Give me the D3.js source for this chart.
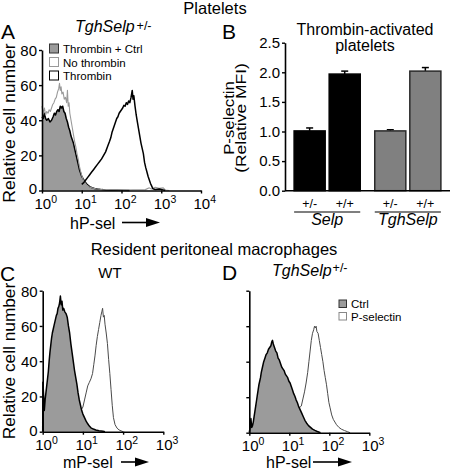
<!DOCTYPE html>
<html><head><meta charset="utf-8">
<script src="https://cdn.jsdelivr.net/npm/d3@7"></script>
<style>
body{margin:0;background:#fff;}
svg{display:block;font-family:"Liberation Sans",Arial,Helvetica,sans-serif;}
</style></head><body>
<svg id="fig" width="451" height="470"></svg>
<script>
// ---------- DATA ----------
const countTicks = [0, 20, 40, 60, 80];
const decadeTicksA = [0, 1, 2, 3, 4];
const decadeTicksCD = [0, 1, 2, 3];

// Panel A (TghSelp +/- platelets), x = log10 fluorescence
const aCtrlLog   = [0.00,0.03,0.06,0.09,0.12,0.16,0.20,0.24,0.28,0.31,0.34,0.37,0.40,0.43,0.46,0.49,0.52,0.55,0.58,0.61,0.64,0.67,0.70,0.73,0.76,0.79,0.82,0.85,0.88,0.91,0.94,0.97,1.00,1.04,1.08,1.12,1.16,1.20,1.26,1.32,1.40,1.50,1.60,1.75,1.90,2.20];
const aCtrlCount = [42,41,44,41,40,41,39,40,42,44,43,45,46,45,48,47,48,45,44,41,39,36,34,31,29,27,24,21,18,15,12,10,8,6.5,5,3.8,3,2.2,1.6,1.1,0.8,0.5,0.3,0.2,0.1,0];
const aNoThrLog   = [0.00,0.03,0.06,0.09,0.12,0.15,0.18,0.21,0.24,0.27,0.30,0.33,0.36,0.39,0.42,0.44,0.46,0.48,0.50,0.53,0.56,0.59,0.62,0.64,0.66,0.68,0.70,0.73,0.76,0.79,0.82,0.85,0.88,0.91,0.94,0.97,1.00,1.04,1.08,1.12,1.18,1.25,1.35,1.50,1.70,2.00,2.30,2.60,2.70,2.75,2.85,2.95,3.05,3.10,3.20];
const aNoThrCount = [48,44,47,43,45,44,46,45,47,49,50,52,53,56,58,61,57,59,55,56,52,53,50,57,48,50,44,40,36,32,28,25,21,18,14,11,8.5,6,4.5,3.2,2.2,1.5,1,0.6,0.4,0.3,0.4,0.5,1.5,0.8,1.8,1.2,1.5,0.3,0];
const aThrLog   = [1.00,1.05,1.10,1.15,1.20,1.25,1.30,1.35,1.40,1.45,1.50,1.55,1.60,1.65,1.70,1.73,1.76,1.79,1.82,1.85,1.88,1.91,1.94,1.97,2.00,2.03,2.06,2.09,2.12,2.15,2.18,2.21,2.24,2.27,2.29,2.31,2.34,2.37,2.40,2.43,2.46,2.49,2.52,2.55,2.58,2.61,2.64,2.67,2.70,2.73,2.76,2.79,2.85,2.95,3.02,3.10];
const aThrCount = [3.5,4.5,6,7.5,9,10.5,12,13.5,15,16.5,18,20,22,25,28,30,33,35,37,39,41,42,44,45,46,47,48.5,48,50,49,51,50,53,57,52,54,48,43,39,35,31,27,24,21,16,13,10.5,8,6,4,2.5,1,0.6,0.8,0.5,0];

// Panel B (thrombin-activated platelets, relative MFI)
const mfiTicks = [0, 0.5, 1.0, 1.5, 2.0, 2.5];
const barGroups = ["Selp", "TghSelp"];
const barGenotypes = ["+/-", "+/+"];
const barValues = [1.01, 1.97, 1.01, 2.02];
const barErrors = [0.05, 0.05, 0.02, 0.06];

// Panel C (WT macrophages)
const cCtrlLog   = [0.00,0.005,0.02,0.04,0.06,0.08,0.10,0.12,0.14,0.16,0.18,0.20,0.22,0.24,0.26,0.28,0.30,0.32,0.34,0.36,0.38,0.40,0.42,0.44,0.46,0.48,0.50,0.52,0.55,0.58,0.61,0.64,0.67,0.70,0.73,0.76,0.79,0.82,0.85,0.88,0.91,0.94,0.97,1.00,1.04,1.08,1.12,1.16,1.20,1.26,1.32,1.40,1.50,1.55];
const cCtrlCount = [0,28,22,12,18,22,26,30,34,40,45,49,53,56,58,60,62,64,66,67,70,71,73,77,72,74,69,70,68,67,65,60,56,50,45,40,35,31,27,22,18,15,12,10,8,6,4.5,3.2,2.2,1.5,1,0.6,0.2,0];
const cPselLog   = [0.90,0.95,1.00,1.04,1.08,1.12,1.16,1.20,1.24,1.27,1.30,1.33,1.36,1.39,1.42,1.45,1.47,1.49,1.51,1.53,1.55,1.58,1.61,1.64,1.67,1.70,1.73,1.76,1.80,1.85,1.90,1.95,2.00];
const cPselCount = [10,12,14,18,22,26,28,30,33,38,43,49,54,58,62,66,68,70,65,66,61,56,50,41,33,24,15,8,4,2,1,0.5,0];

// Panel D (TghSelp +/- macrophages)
const dCtrlLog   = [0.00,0.02,0.04,0.06,0.08,0.10,0.12,0.14,0.16,0.18,0.20,0.22,0.24,0.26,0.28,0.30,0.33,0.36,0.39,0.42,0.45,0.48,0.51,0.54,0.56,0.58,0.60,0.63,0.66,0.69,0.72,0.75,0.78,0.81,0.84,0.87,0.90,0.93,0.96,0.99,1.02,1.05,1.08,1.11,1.14,1.17,1.20,1.23,1.27,1.31,1.35,1.39,1.43,1.48,1.53,1.58,1.64,1.70,1.78];
const dCtrlCount = [0,3,8,3,4,6,9,12,15,18,21,24,27,29,31,34,37,40,42,44,45,47,48,49,51,52,50,48,46,45,42,41,39,37,36,35,33,32,31,29,28,26,24,22,20.5,18.5,17,15,13,11,9,7,5.5,4,3,2,1.3,0.7,0];
const dPselLog   = [1.20,1.25,1.30,1.34,1.38,1.42,1.46,1.49,1.52,1.55,1.58,1.61,1.63,1.65,1.67,1.69,1.72,1.75,1.78,1.81,1.84,1.87,1.90,1.93,1.96,1.99,2.02,2.06,2.10,2.14,2.18,2.24,2.30,2.38,2.45,2.52];
const dPselCount = [12,14,15,19,23,28,34,40,46,52,56,58,60,59,60,57,56,52,48,44,40,35,31,27,22,17,14,10,7.5,6,4.5,3,2,1.2,0.6,0];

// ---------- DRAWING ----------
const svg = d3.select("#fig");
const FONT = '"Liberation Sans",Arial,Helvetica,sans-serif';
const zip = (a, b) => a.map((v, i) => [v, b[i]]);

function txt(x, y, s, size, opts = {}) {
  const t = svg.append("text").attr("x", x).attr("y", y).attr("font-size", size)
    .attr("fill", "#000").text(s);
  if (opts.anchor) t.attr("text-anchor", opts.anchor);
  if (opts.italic) t.attr("font-style", "italic");
  return t;
}
// vertical (rotated) text, stretched along reading direction
function vtxt(x, y, s, size, sx) {
  return svg.append("text").attr("transform", `translate(${x},${y}) rotate(-90) scale(${sx},1)`)
    .attr("text-anchor", "middle").attr("font-size", size).attr("fill", "#000").text(s);
}

function arrow(x1, x2, y) {
  svg.append("line").attr("x1", x1).attr("x2", x2 - 12).attr("y1", y).attr("y2", y)
    .attr("stroke", "#000").attr("stroke-width", 1.6);
  svg.append("path").attr("d", `M${x2 - 14},${y - 4.5}L${x2},${y}L${x2 - 14},${y + 4.5}Z`).attr("fill", "#000");
}

function histAxes(x, y, xt, showYLabels) {
  const ya = d3.axisLeft(y).tickValues(countTicks).tickSize(3).tickSizeOuter(0).tickPadding(2);
  if (!showYLabels) ya.tickFormat("");
  const gy = svg.append("g").attr("transform", `translate(${x.range()[0]},0)`).call(ya);
  gy.attr("font-size", 15).attr("font-family", FONT);
  gy.selectAll("text").attr("dy", "0.36em").attr("fill", "#000")
    .attr("y", d => d === 0 ? -2 : 0);
  const xa = d3.axisBottom(x).tickValues(xt).tickSize(3).tickSizeOuter(0).tickPadding(4.5).tickFormat("");
  const gx = svg.append("g").attr("transform", `translate(0,${y.range()[0]})`).call(xa);
  gx.attr("font-size", 15).attr("font-family", FONT);
  gx.selectAll(".tick text").attr("text-anchor", "start").attr("x", -8).attr("fill", "#000")
    .each(function (d) {
      const t = d3.select(this);
      t.text(null);
      t.append("tspan").text("10");
      t.append("tspan").attr("dy", -6).attr("font-size", 10.5).text(d);
    });
  [gx, gy].forEach(g => {
    g.select(".domain").attr("stroke", "#000").attr("stroke-width", 1.6);
    g.selectAll(".tick line").attr("stroke", "#000").attr("stroke-width", 1.4);
  });
}

function filled(x, y, logs, counts) {
  const pts = zip(logs, counts);
  svg.append("path").datum(pts)
    .attr("d", d3.area().x(d => x(d[0])).y0(y(0)).y1(d => y(d[1])))
    .attr("fill", "#9b9b9b");
  svg.append("path").datum(pts)
    .attr("d", d3.line().x(d => x(d[0])).y(d => y(d[1])))
    .attr("fill", "none").attr("stroke", "#000").attr("stroke-width", 1.5).attr("stroke-linejoin", "round");
}
function lineH(x, y, logs, counts, color, w) {
  svg.append("path").datum(zip(logs, counts))
    .attr("d", d3.line().x(d => x(d[0])).y(d => y(d[1])))
    .attr("fill", "none").attr("stroke", color).attr("stroke-width", w).attr("stroke-linejoin", "round");
}
function legendBox(x, y, s, fill, stroke) {
  svg.append("rect").attr("x", x).attr("y", y).attr("width", s).attr("height", s)
    .attr("fill", fill).attr("stroke", stroke).attr("stroke-width", 1);
}

// Headings
txt(215, 14, "Platelets", 16.5, { anchor: "middle" });
txt(214, 255, "Resident peritoneal macrophages", 16.5, { anchor: "middle" });

// ----- Panel A -----
{
  const x = d3.scaleLinear().domain([0, 4]).range([42, 201]);
  const y = d3.scaleLinear().domain([0, 80]).range([190.5, 50]);
  filled(x, y, aCtrlLog, aCtrlCount);
  lineH(x, y, aNoThrLog, aNoThrCount, "#9a9a9a", 1.1);
  lineH(x, y, aThrLog, aThrCount, "#000", 1.5);
  histAxes(x, y, decadeTicksA, true);
  txt(1, 39, "A", 21);
  const t = txt(75, 32, "TghSelp", 16, { italic: true });
  t.append("tspan").attr("font-style", "normal").attr("font-size", 12.5).attr("dx", 2).attr("dy", -2).text("+/-");
  vtxt(15, 123, "Relative cell number", 16, 1.1);
  txt(70, 228.5, "hP-sel", 16);
  arrow(122, 160, 222.5);
  legendBox(49.5, 44, 9, "#9b9b9b", "#333");
  legendBox(49.5, 57.5, 9, "#fff", "#999");
  legendBox(49.5, 71, 9, "#fff", "#000");
  txt(63, 53, "Thrombin + Ctrl", 11.5);
  txt(63, 66.5, "No thrombin", 11.5);
  txt(63, 80, "Thrombin", 11.5);
}

// ----- Panel B -----
{
  const y = d3.scaleLinear().domain([0, 2.5]).range([190.7, 42.7]);
  const xg = d3.scaleBand().domain(barGroups).range([285, 450]).paddingInner(0.18).paddingOuter(0.113);
  const xi = d3.scaleBand().domain(barGenotypes).range([0, xg.bandwidth()]).paddingInner(0.114);
  const bars = [];
  barGroups.forEach((g, gi) => barGenotypes.forEach((k, ki) => {
    const idx = gi * 2 + ki;
    bars.push({ g, k, v: barValues[idx], e: barErrors[idx], gi });
  }));
  const bx = d => xg(d.g) + xi(d.k);
  // error bars
  svg.append("g").selectAll("g").data(bars).join("g").each(function (d) {
    const g = d3.select(this), cx = bx(d) + xi.bandwidth() / 2;
    g.append("line").attr("x1", cx).attr("x2", cx).attr("y1", y(d.v)).attr("y2", y(d.v + d.e))
      .attr("stroke", "#000").attr("stroke-width", 1.5);
    g.append("line").attr("x1", cx - 3.5).attr("x2", cx + 3.5).attr("y1", y(d.v + d.e)).attr("y2", y(d.v + d.e))
      .attr("stroke", "#000").attr("stroke-width", 1.5);
  });
  svg.append("g").selectAll("rect").data(bars).join("rect")
    .attr("x", bx).attr("width", xi.bandwidth())
    .attr("y", d => y(d.v)).attr("height", d => y(0) - y(d.v))
    .attr("fill", d => d.gi === 0 ? "#000" : "#808080")
    .attr("stroke", d => d.gi === 0 ? "#000" : "#2a2a2a").attr("stroke-width", 1.5);

  const ya = d3.axisLeft(y).tickValues(mfiTicks).tickSize(3).tickSizeOuter(0).tickPadding(2).tickFormat(d3.format(".1f"));
  const gy = svg.append("g").attr("transform", "translate(285,0)").call(ya);
  gy.attr("font-size", 15).attr("font-family", FONT);
  gy.selectAll("text").attr("fill", "#000");
  const gx = svg.append("g").attr("transform", `translate(0,${y(0)})`)
    .call(d3.axisBottom(xg).tickSize(0).tickSizeOuter(0).tickFormat(""));
  gx.selectAll(".tick").remove();
  gx.select(".domain").attr("d", `M285,0H450`);
  [gx, gy].forEach(g => {
    g.select(".domain").attr("stroke", "#000").attr("stroke-width", 1.6);
    g.selectAll(".tick line").attr("stroke", "#000").attr("stroke-width", 1.4);
  });
  // category labels
  bars.forEach(d => txt(bx(d) + xi.bandwidth() / 2, 208, d.k, 12.5, { anchor: "middle" }));
  barGroups.forEach(g => {
    svg.append("line").attr("x1", xg(g)).attr("x2", xg(g) + xg.bandwidth()).attr("y1", 212).attr("y2", 212)
      .attr("stroke", "#000").attr("stroke-width", 1.1);
    txt(xg(g) + xg.bandwidth() / 2, 224.5, g, 16, { anchor: "middle", italic: true });
  });
  txt(222, 39, "B", 21);
  txt(365, 35, "Thrombin-activated", 16, { anchor: "middle" });
  txt(365, 51, "platelets", 16, { anchor: "middle" });
  vtxt(234, 118, "P-selectin", 14, 1.2);
  vtxt(246, 118, "(Relative MFI)", 14, 1.25);
}

// ----- Panel C -----
{
  const x = d3.scaleLinear().domain([0, 3]).range([42.7, 163.3]);
  const y = d3.scaleLinear().domain([0, 80]).range([431.7, 290.7]);
  lineH(x, y, cPselLog, cPselCount, "#4a4a4a", 1);
  filled(x, y, cCtrlLog, cCtrlCount);
  histAxes(x, y, decadeTicksCD, true);
  txt(0, 281, "C", 21);
  txt(110, 278, "WT", 15, { anchor: "middle" });
  vtxt(15, 361, "Relative cell number", 16, 1.08);
  txt(63, 467.5, "mP-sel", 16);
  arrow(121, 149, 462);
}

// ----- Panel D -----
{
  const x = d3.scaleLinear().domain([0, 3]).range([249.3, 369.3]);
  const y = d3.scaleLinear().domain([0, 80]).range([432.7, 290.7]);
  lineH(x, y, dPselLog, dPselCount, "#4a4a4a", 1);
  filled(x, y, dCtrlLog, dCtrlCount);
  histAxes(x, y, decadeTicksCD, false);
  txt(222, 280, "D", 21);
  const t = txt(272, 276, "TghSelp", 16, { italic: true });
  t.append("tspan").attr("font-style", "normal").attr("font-size", 12.5).attr("dx", 1).attr("dy", -4).text("+/-");
  txt(266, 467.5, "hP-sel", 16);
  arrow(313, 352, 462);
  legendBox(339, 300, 7.5, "#9b9b9b", "#333");
  legendBox(339, 312.5, 7.5, "#fff", "#888");
  txt(351, 308, "Ctrl", 11.5);
  txt(351, 320.5, "P-selectin", 11.5);
}
</script>
</body></html>
